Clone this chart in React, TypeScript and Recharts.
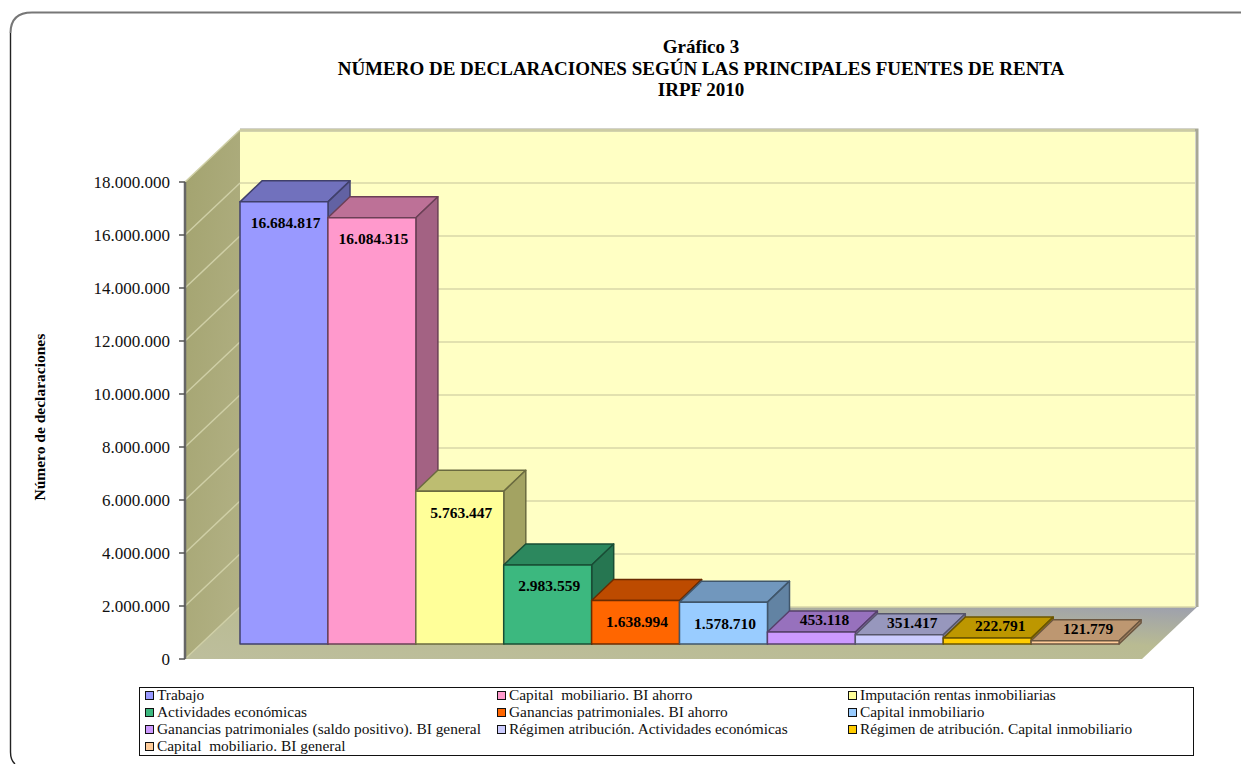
import React from "react"
import {
  BarChart,
  Bar,
  XAxis,
  YAxis,
  CartesianGrid,
  LabelList,
  Legend,
} from "recharts"

const categories = [
  "Trabajo",
  "Capital  mobiliario. BI ahorro",
  "Imputación rentas inmobiliarias",
  "Actividades económicas",
  "Ganancias patrimoniales. BI ahorro",
  "Capital inmobiliario",
  "Ganancias patrimoniales (saldo positivo). BI general",
  "Régimen atribución. Actividades económicas",
  "Régimen de atribución. Capital inmobiliario",
  "Capital  mobiliario. BI general",
]
const declaraciones = [
  16684817, 16084315, 5763447, 2983559, 1638994, 1578710, 453118, 351417,
  222791, 121779,
]
const colors = [
  "#9999FF",
  "#FF99CC",
  "#FFFF99",
  "#3CB87F",
  "#FF6600",
  "#99CCFF",
  "#CC99FF",
  "#CCCCFF",
  "#FFCC00",
  "#FFCC99",
]
const yTicks = [
  0, 2000000, 4000000, 6000000, 8000000, 10000000, 12000000, 14000000, 16000000,
  18000000,
]
const titleLines = [
  "Gráfico 3",
  "NÚMERO DE DECLARACIONES SEGÚN LAS PRINCIPALES FUENTES DE RENTA",
  "IRPF 2010",
]

const rows = categories.map((name, i) => ({ name, value: declaraciones[i] }))

const SERIF = "'Liberation Serif', 'Times New Roman', serif"
const WIDTH = 1242
const HEIGHT = 764

// 3D look: bars sit a little behind the axis plane, the walls further back
const BAR_LIFT = 15
const DEPTH_X = 22
const DEPTH_Y = 21
const WALL_X = 55
const WALL_Y = 52
const LEFT = 185
const RIGHT = 1142
const TOP = 182
const BOTTOM = 659

const fmt = (v: number) => String(v).replace(/\B(?=(\d{3})+(?!\d))/g, ".")

const shade = (hex: string, k: number) => {
  const n = parseInt(hex.slice(1), 16)
  const c = [(n >> 16) & 255, (n >> 8) & 255, n & 255].map((v) =>
    Math.round(v * k)
  )
  return `rgb(${c[0]},${c[1]},${c[2]})`
}

const Bar3D = (props: any) => {
  const { x, y, width, height, index } = props
  const color = colors[index]
  const edge = shade(color, 0.42)
  const top = y - BAR_LIFT
  const r = x + width
  const b = top + height
  return (
    <g stroke={edge} strokeWidth={1.5} strokeLinejoin="round">
      <polygon
        points={`${x},${top} ${x + DEPTH_X},${top - DEPTH_Y} ${r + DEPTH_X},${top - DEPTH_Y} ${r},${top}`}
        fill={shade(color, 0.74)}
      />
      <polygon
        points={`${r},${top} ${r + DEPTH_X},${top - DEPTH_Y} ${r + DEPTH_X},${b - DEPTH_Y} ${r},${b}`}
        fill={shade(color, 0.64)}
      />
      <rect x={x} y={top} width={width} height={height} fill={color} />
    </g>
  )
}

const BarValue = (props: any) => {
  const { x, y, width, value } = props
  const small = value < 1000000
  const top = y - BAR_LIFT
  return (
    <text
      x={x + width / 2 + (small ? 13 : 1.5)}
      y={small ? top - 12.5 : top + 21}
      textAnchor="middle"
      dominantBaseline="central"
      fontFamily={SERIF}
      fontWeight="bold"
      fontSize={15.5}
      fill="#000"
    >
      {fmt(value)}
    </text>
  )
}

const WallGridLine = (props: any) => {
  const { x1, y1, x2 } = props
  return (
    <g fill="none" strokeWidth={1.5}>
      <line
        x1={x1}
        y1={y1}
        x2={x1 + WALL_X}
        y2={y1 - WALL_Y}
        stroke="#CFCFA6"
      />
      <line
        x1={x1 + WALL_X}
        y1={y1 - WALL_Y}
        x2={x2 + WALL_X - 2}
        y2={y1 - WALL_Y}
        stroke="#D9D7A8"
      />
    </g>
  )
}

const LegendBox = () => (
  <div
    style={{
      boxSizing: "border-box",
      width: 1055,
      height: 69,
      border: "1.5px solid #111",
      background: "#fff",
      display: "grid",
      gridTemplateColumns: "352px 351px 1fr",
      gridAutoRows: "17px",
      paddingLeft: 5,
      fontFamily: SERIF,
      fontSize: 15.4,
      color: "#111",
      whiteSpace: "pre",
    }}
  >
    {categories.map((name, i) => (
      <div
        key={name}
        style={{
          display: "flex",
          alignItems: "center",
          height: 17,
          marginTop: -1.5,
        }}
      >
        <span
          style={{
            boxSizing: "border-box",
            width: 9,
            height: 9,
            border: "1.5px solid #111",
            background: colors[i],
            marginRight: 3,
            flex: "none",
          }}
        />
        {name}
      </div>
    ))}
  </div>
)

const Backdrop = () => (
  <svg
    width={WIDTH}
    height={HEIGHT}
    style={{ position: "absolute", left: 0, top: 0 }}
  >
    <defs>
      <linearGradient id="floor" x1="0" y1="1" x2="1" y2="0">
        <stop offset="0" stopColor="#BDBE9C" />
        <stop offset="0.6" stopColor="#B9BB92" />
        <stop offset="1" stopColor="#9DA0AE" />
      </linearGradient>
      <linearGradient id="side" x1="0" y1="0" x2="1" y2="1">
        <stop offset="0" stopColor="#A3A36F" />
        <stop offset="1" stopColor="#B3B286" />
      </linearGradient>
    </defs>
    <path
      d="M1241 12.5 H32 Q10.5 12.5 10.5 33"
      fill="none"
      stroke="#777"
      strokeWidth={2}
    />
    <path
      d="M10.5 33 V752 Q10.5 760 15 764"
      fill="none"
      stroke="#222"
      strokeWidth={1.4}
    />
    <rect
      x={LEFT + WALL_X}
      y={TOP - WALL_Y}
      width={RIGHT - LEFT - 2}
      height={BOTTOM - TOP}
      fill="#FFFFC4"
    />
    <path
      d={`M${LEFT + WALL_X} ${TOP - WALL_Y} H${RIGHT + WALL_X} V${BOTTOM - WALL_Y}`}
      fill="none"
      stroke="#A8A896"
      strokeWidth={3}
    />
    <polygon
      points={`${LEFT},${TOP} ${LEFT + WALL_X},${TOP - WALL_Y} ${LEFT + WALL_X},${BOTTOM - WALL_Y} ${LEFT},${BOTTOM}`}
      fill="url(#side)"
    />
    <polygon
      points={`${LEFT},${BOTTOM} ${LEFT + WALL_X},${BOTTOM - WALL_Y} ${RIGHT + WALL_X},${BOTTOM - WALL_Y} ${RIGHT},${BOTTOM}`}
      fill="url(#floor)"
    />
    <text
      fontFamily={SERIF}
      fontWeight="bold"
      fontSize={19}
      fill="#000"
      textAnchor="middle"
    >
      {titleLines.map((line, i) => (
        <tspan key={line} x={701} y={53 + i * 21.5}>
          {line}
        </tspan>
      ))}
    </text>
  </svg>
)

export default function App() {
  return (
    <div
      style={{
        position: "absolute",
        left: 0,
        top: 0,
        width: WIDTH,
        height: HEIGHT,
        overflow: "hidden",
        background: "#fff",
      }}
    >
      <Backdrop />
      <div style={{ position: "absolute", left: 0, top: 0 }}>
        <BarChart
          width={WIDTH}
          height={HEIGHT}
          data={rows}
          barCategoryGap={0}
          margin={{ top: TOP, right: WIDTH - RIGHT, bottom: HEIGHT - BOTTOM - 69, left: 20 }}
        >
          <CartesianGrid vertical={false} horizontal={WallGridLine} />
          <XAxis
            dataKey="name"
            height={0}
            tick={false}
            tickLine={false}
            axisLine={{ stroke: "#555", strokeWidth: 2.5 }}
            padding={{ left: WALL_X, right: 23 }}
          />
          <YAxis
            width={LEFT - 20}
            domain={[0, 18000000]}
            ticks={yTicks}
            interval={0}
            tickFormatter={fmt}
            tick={{ fontFamily: SERIF, fontSize: 17, fill: "#111" }}
            tickSize={6}
            tickMargin={9}
            tickLine={{ stroke: "#555", strokeWidth: 1.5 }}
            axisLine={{ stroke: "#666", strokeWidth: 2.5 }}
            label={{
              value: "Número de declaraciones",
              angle: -90,
              position: "insideLeft",
              offset: 19,
              dy: 80,
              style: {
                fontFamily: SERIF,
                fontWeight: "bold",
                fontSize: 15.5,
                fill: "#000",
              },
            }}
          />
          <Legend
            verticalAlign="bottom"
            content={<LegendBox />}
            wrapperStyle={{ left: 139, top: 687, bottom: "auto", width: 1055, height: 69 }}
          />
          <Bar dataKey="value" shape={Bar3D} isAnimationActive={false}>
            <LabelList dataKey="value" content={BarValue} />
          </Bar>
        </BarChart>
      </div>
    </div>
  )
}
